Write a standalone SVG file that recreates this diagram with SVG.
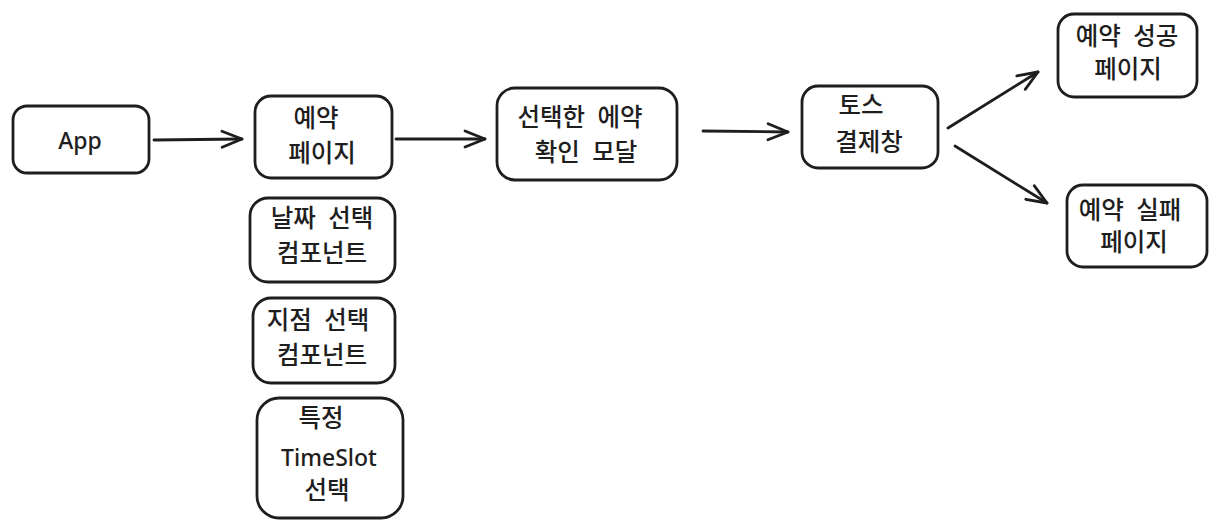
<svg xmlns="http://www.w3.org/2000/svg" width="1218" height="528" viewBox="0 0 1218 528">
<style>
.box{fill:#ffffff;stroke:#1e1e1e;stroke-width:2.8}
.t{font-family:"Noto Sans CJK KR","Noto Sans",sans-serif;font-size:24.5px;font-weight:500;fill:#1e1e1e;text-anchor:middle;dominant-baseline:central;word-spacing:7px}
.h{font-family:"Noto Sans","Liberation Sans",sans-serif;font-size:23px;font-weight:500;fill:#1e1e1e;text-anchor:middle;dominant-baseline:central}
.c{fill:none;stroke:#1e1e1e;stroke-width:2.8;stroke-linecap:round}
</style>
<defs>
<marker id="ah" viewBox="-22 -12 26 24" markerWidth="26" markerHeight="24" refX="0" refY="0" markerUnits="userSpaceOnUse" orient="auto">
<path d="M-20,-8 L0,0 L-20,8" fill="none" stroke="#1e1e1e" stroke-width="2.8" stroke-linecap="round" stroke-linejoin="round"/>
</marker>
</defs>
<rect width="1218" height="528" fill="#ffffff"/>
<g id="connectors">
<line class="c" x1="154" y1="140" x2="242" y2="139" marker-end="url(#ah)"/>
<line class="c" x1="396" y1="139" x2="485" y2="139" marker-end="url(#ah)"/>
<line class="c" x1="703" y1="131" x2="788" y2="132" marker-end="url(#ah)"/>
<line class="c" x1="948" y1="128" x2="1038" y2="72" marker-end="url(#ah)"/>
<line class="c" x1="955" y1="146" x2="1047" y2="203" marker-end="url(#ah)"/>
</g>
<g id="app">
<rect class="box" x="13" y="106" width="136" height="67" rx="14"/>
<text class="h" x="80" y="140">App</text>
</g>
<g id="reservation-page">
<rect class="box" x="255" y="96" width="137" height="82" rx="16"/>
<text class="t" x="316" y="116">예약</text>
<text class="t" x="322" y="151">페이지</text>
</g>
<g id="confirm-modal">
<rect class="box" x="497" y="88" width="180" height="92" rx="18"/>
<text class="t" x="580" y="115">선택한 에약</text>
<text class="t" x="586" y="150">확인 모달</text>
</g>
<g id="toss">
<rect class="box" x="802" y="86" width="136" height="82" rx="16"/>
<text class="t" x="861" y="103">토스</text>
<text class="t" x="869" y="140">결제창</text>
</g>
<g id="success">
<rect class="box" x="1058" y="14" width="139" height="83" rx="16"/>
<text class="t" x="1127" y="34">예약 성공</text>
<text class="t" x="1128" y="67">페이지</text>
</g>
<g id="fail">
<rect class="box" x="1067" y="185" width="140" height="82" rx="16"/>
<text class="t" x="1130" y="208">예약 실패</text>
<text class="t" x="1134" y="240">페이지</text>
</g>
<g id="date-select">
<rect class="box" x="250" y="198" width="145" height="84" rx="18"/>
<text class="t" x="322" y="216">날짜 선택</text>
<text class="t" x="322" y="251">컴포넌트</text>
</g>
<g id="branch-select">
<rect class="box" x="253" y="298" width="142" height="85" rx="18"/>
<text class="t" x="318" y="318">지점 선택</text>
<text class="t" x="322" y="353">컴포넌트</text>
</g>
<g id="timeslot-select">
<rect class="box" x="257" y="398" width="146" height="120" rx="22"/>
<text class="t" x="321" y="416">특정</text>
<text class="h" x="329" y="457">TimeSlot</text>
<text class="t" x="327" y="488">선택</text>
</g>
</svg>
